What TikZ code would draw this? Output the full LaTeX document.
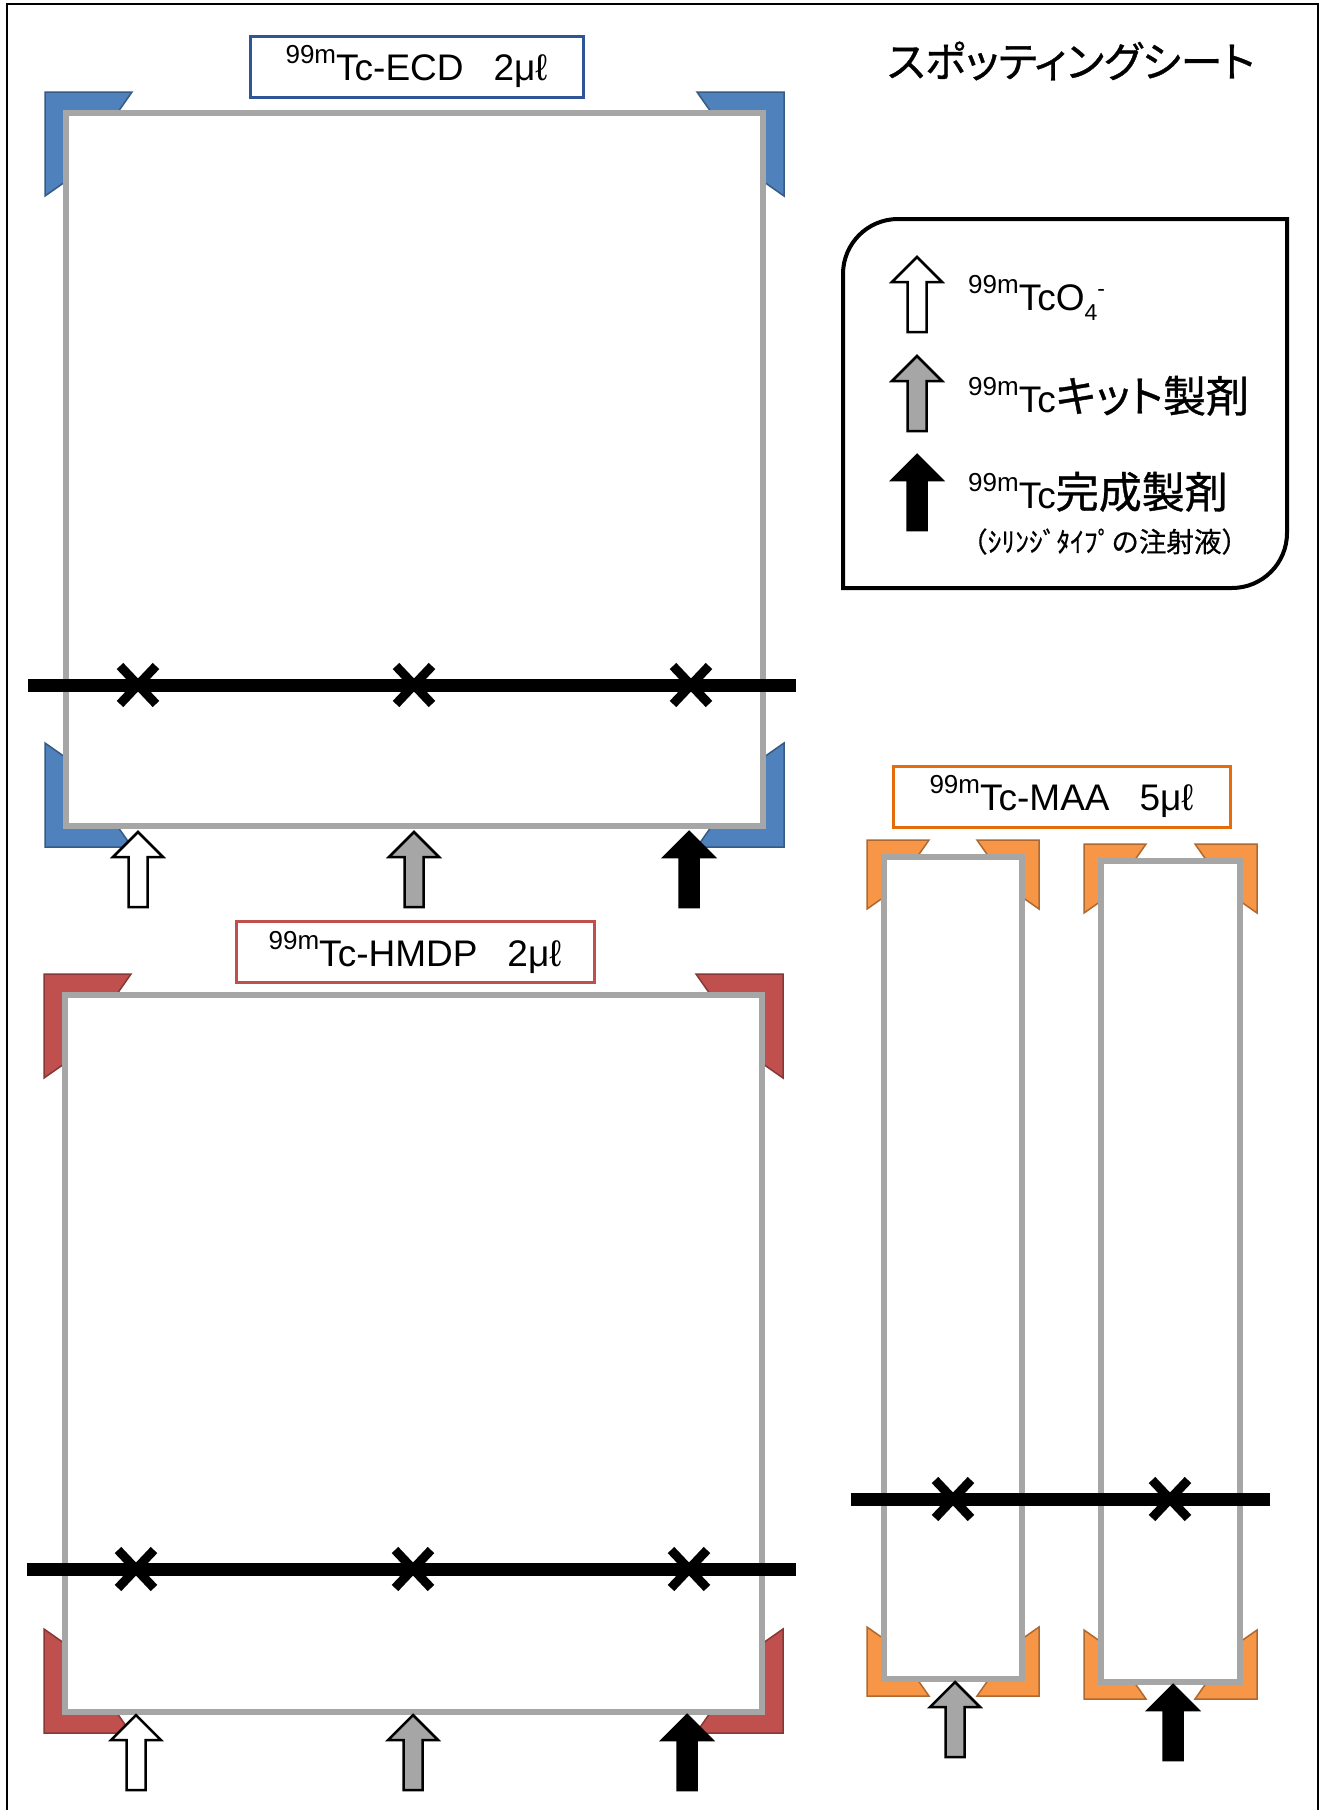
\documentclass[tikz,border=0pt]{standalone}
\usepackage{fontspec}
\setmainfont{Liberation Sans}
\newfontfamily\jpfont{Noto Sans CJK JP}[FakeBold=0.6]
\newfontfamily\jppfont{Noto Sans CJK JP}[RawFeature=+palt, FakeBold=0.8]
\definecolor{sheetgray}{RGB}{166,166,166}
\definecolor{cornerblue}{RGB}{79,129,189}
\definecolor{cornerred}{RGB}{192,80,77}
\definecolor{cornerorange}{RGB}{247,150,70}
\definecolor{ecdblue}{RGB}{47,85,151}
\definecolor{hmdpred}{RGB}{192,80,77}
\definecolor{maaorange}{RGB}{228,108,10}
\usepackage{tikz}
\usetikzlibrary{positioning}

% isotope prefix
\newcommand{\tcm}{{\fontsize{26}{26}\selectfont\raisebox{17pt}{99m}}Tc}
% one L-shaped corner: style, x, y, xscale, yscale, arm a, arm b, width
\newcommand{\cornermark}[8]{%
  \filldraw[#1, shift={(#2,#3)}, xscale=#4, yscale=#5]
    (0,0) -- (#6,0) -- (#6-0.7*#8,#8) -- (#8,#8) -- (#8,#7-0.7*#8) -- (0,#7) -- cycle;}
% four corners round a sheet: style, x1, y1, x2, y2, arm a, arm b, width
\newcommand{\sheetcorners}[8]{%
  \cornermark{#1}{#2-#8}{#3-#8}{1}{1}{#6}{#7}{#8}
  \cornermark{#1}{#4+#8}{#3-#8}{-1}{1}{#6}{#7}{#8}
  \cornermark{#1}{#2-#8}{#5+#8}{1}{-1}{#6}{#7}{#8}
  \cornermark{#1}{#4+#8}{#5+#8}{-1}{-1}{#6}{#7}{#8}}
% block arrow pointing up: fill, x, tip y
\newcommand{\uparrowmark}[3]{%
  \filldraw[draw=black, line width=2.5, fill=#1, shift={(#2,#3)}]
    (0,0) -- (25,25) -- (9.5,25) -- (9.5,75) -- (-9.5,75) -- (-9.5,25) -- (-25,25) -- cycle;}

\begin{document}
\begin{tikzpicture}[x=1pt, y=-1pt,
  sheetline/.style={draw=sheetgray, line width=6},
  spotline/.style={line width=13},
  crossmark/.style={line width=9},
  labelbox/.style={draw, line width=3, fill=white, inner sep=0, minimum height=61,
    font=\fontsize{37}{40}\selectfont},
  legtext/.style={anchor=base west, inner sep=0, font=\fontsize{37}{40}\selectfont},
  bluecorner/.style={fill=cornerblue, draw=cornerblue!70!black, line width=1.5},
  redcorner/.style={fill=cornerred, draw=cornerred!70!black, line width=1.5},
  orangecorner/.style={fill=cornerorange, draw=cornerorange!70!black, line width=1.5}]

\useasboundingbox (0,0) rectangle (1324,1810);
\draw[line width=2] (7,1815) -- (7,4) -- (1318,4) -- (1318,1815);

% title
\node[font=\jppfont\fontsize{42}{46}\selectfont] (title) at (1071,61) {スポッティングシート};

% corner marks
\sheetcorners{bluecorner}{66}{113}{763}{826}{87}{104}{21}
\sheetcorners{redcorner}{65}{995}{762}{1712}{87}{104}{21}
\sheetcorners{orangecorner}{884}{857}{1022}{1679}{62}{69}{17}
\sheetcorners{orangecorner}{1101}{861}{1240}{1682}{62}{69}{17}

% sheets
\draw[sheetline] (66,113) rectangle (763,826);
\draw[sheetline] (65,995) rectangle (762,1712);
\draw[sheetline] (884,857) rectangle (1022,1679);
\draw[sheetline] (1101,861) rectangle (1240,1682);

% origin lines and spots
\draw[spotline] (28,685) -- (796,685);
\draw[spotline] (27,1569) -- (796,1569);
\draw[spotline] (851,1499) -- (1270,1499);
\foreach \x in {138,414,691}
  \draw[crossmark] (\x-18,685-19) -- (\x+18,685+19) (\x-18,685+19) -- (\x+18,685-19);
\foreach \x in {136,413,689}
  \draw[crossmark] (\x-18,1569-19) -- (\x+18,1569+19) (\x-18,1569+19) -- (\x+18,1569-19);
\foreach \x in {953,1170}
  \draw[crossmark] (\x-18,1499-19) -- (\x+18,1499+19) (\x-18,1499+19) -- (\x+18,1499-19);

% labels
\node[labelbox, draw=ecdblue, minimum width=333] (ecd) at (416.5,66.5)
  {\tcm-ECD\hspace{30pt}2μℓ};
\node[labelbox, draw=hmdpred, minimum width=358] (hmdp) at (415,952)
  {\tcm-HMDP\hspace{30pt}2μℓ};
\node[labelbox, draw=maaorange, minimum width=337] (maa) at (1061.5,796.5)
  {\tcm-MAA\hspace{30pt}5μℓ};

% sample arrows
\uparrowmark{white}{138}{832}
\uparrowmark{sheetgray}{414}{832}
\uparrowmark{black}{689}{832}
\uparrowmark{white}{136}{1715}
\uparrowmark{sheetgray}{413}{1715}
\uparrowmark{black}{687}{1715}
\uparrowmark{sheetgray}{955}{1682}
\uparrowmark{black}{1173}{1685}

% legend
\draw[line width=4] (843,588) -- (843,274) arc[start angle=180, end angle=270, radius=55]
  -- (1287,219) -- (1287,533) arc[start angle=0, end angle=90, radius=55] -- cycle;
\uparrowmark{white}{917}{257}
\uparrowmark{sheetgray}{917}{356}
\uparrowmark{black}{917}{455}
\node[legtext] (leg1) at (968,310) {\tcm O\raisebox{-10pt}{\fontsize{23}{23}\selectfont 4}\raisebox{14pt}{\fontsize{23}{23}\selectfont -}};
\node[legtext] (leg2) at (968,412) {\tcm{\jppfont\fontsize{43}{46}\selectfont キット製剤}};
\node[legtext] (leg3) at (968,508) {\tcm{\jppfont\fontsize{43}{46}\selectfont 完成製剤}};
\node[legtext, font=\jpfont\fontsize{27.5}{30}\selectfont] (leg4) at (960,552) {（ｼﾘﾝｼﾞﾀｲﾌﾟの注射液）};

\end{tikzpicture}
\end{document}
